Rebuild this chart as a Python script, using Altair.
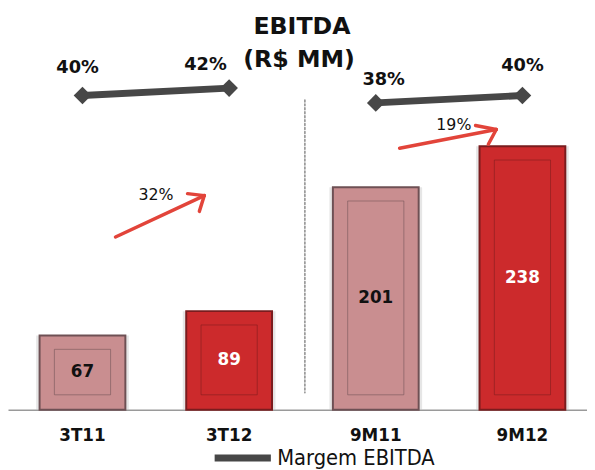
import altair as alt
import pandas as pd

# ---- data ----
categories = ["3T11", "3T12", "9M11", "9M12"]
ebitda = [67, 89, 201, 238]
margin = [40, 42, 38, 40]
margin_labels = ["40%", "42%", "38%", "40%"]
period = ["3T", "3T", "9M", "9M"]
kind = ["prev", "curr", "prev", "curr"]
growth_labels = ["32%", "19%"]
title_lines = ["EBITDA", "(R$ MM)"]
series_name = "Margem EBITDA"

df = pd.DataFrame({
    "cat": categories,
    "ebitda": ebitda,
    "margin": margin,
    "mlabel": margin_labels,
    "period": period,
    "kind": kind,
    "series": [series_name] * 4,
})

W, H = 587, 404
FONT = "DejaVu Sans"
NARROW = "DejaVu Sans Condensed, Liberation Sans Narrow, DejaVu Sans"

x = alt.X("cat:N", sort=categories,
          scale=alt.Scale(paddingInner=0.415, paddingOuter=0.1816, align=0.593),
          axis=alt.Axis(title=None, labelAngle=0, ticks=False, grid=False,
                        domainColor="#9a9a9a", domainWidth=1.5,
                        labelFont=FONT, labelFontSize=17, labelFontWeight="bold",
                        labelColor="#111", labelPadding=18))
yscale = alt.Scale(domain=[0, 360])
y = alt.Y("ebitda:Q", scale=yscale, axis=None)

fill_scale = alt.Scale(domain=["prev", "curr"], range=["#c98e90", "#cc2a2c"])
stroke_scale = alt.Scale(domain=["prev", "curr"], range=["#6e5054", "#7a1c1e"])

base = alt.Chart(df)

shadow = base.mark_bar(width=alt.RelativeBandSize(1.08), color="#b8b8b8", opacity=0.35).encode(
    x=x, y=alt.Y("ebitda:Q", scale=yscale, axis=None))

bars = base.mark_bar(strokeWidth=2).encode(
    x=x, y=y,
    fill=alt.Fill("kind:N", scale=fill_scale, legend=None),
    stroke=alt.Stroke("kind:N", scale=stroke_scale, legend=None),
)

inner = base.transform_calculate(
    top="datum.ebitda - 12.5", bot="13.4"
).mark_bar(width=alt.RelativeBandSize(0.655), fillOpacity=0, strokeWidth=1, strokeOpacity=0.55).encode(
    x=x,
    y=alt.Y("top:Q", scale=yscale, axis=None),
    y2="bot:Q",
    stroke=alt.Stroke("kind:N", scale=stroke_scale, legend=None),
)

values = base.transform_calculate(mid="datum.ebitda / 2").mark_text(
    font=FONT, fontSize=17, fontWeight="bold", baseline="middle", align="center"
).encode(
    x=x,
    y=alt.Y("mid:Q", scale=yscale, axis=None),
    text="ebitda:Q",
    color=alt.Color("kind:N", scale=alt.Scale(domain=["prev", "curr"], range=["#111111", "#ffffff"]), legend=None),
)

mscale = alt.Scale(domain=[-44.93, 62.8])
line = base.mark_line(strokeWidth=7).encode(
    x=x,
    y=alt.Y("margin:Q", scale=mscale, axis=None),
    detail="period:N",
    color=alt.Color("series:N", scale=alt.Scale(domain=[series_name], range=["#474747"]),
                    legend=alt.Legend(title=None, orient="none", legendX=206, legendY=421,
                                      symbolType="stroke", symbolStrokeWidth=7,
                                      symbolSize=3249, labelFont=NARROW, labelFontSize=22,
                                      labelColor="#111", labelOffset=3)),
)
diamonds = base.mark_point(shape="diamond", filled=True, size=320, opacity=1, color="#474747").encode(
    x=x, y=alt.Y("margin:Q", scale=mscale, axis=None))

offsets = {"3T11": (-5, -28), "3T12": (-24, -23), "9M11": (8, -23), "9M12": (0, -30)}
mlabels = []
for c in categories:
    dx, dy = offsets[c]
    mlabels.append(
        base.transform_filter(alt.datum.cat == c).mark_text(
            font=FONT, fontSize=18, fontWeight="bold", dx=dx, dy=dy, baseline="middle", color="#111"
        ).encode(x=x, y=alt.Y("margin:Q", scale=mscale, axis=None), text="mlabel:N")
    )

# ---- annotations ----
def seg(x1, y1, x2, y2, color="#e2443a", w=3.5, dash=None):
    kw = dict(color=color, strokeWidth=w, strokeCap="round")
    if dash:
        kw["strokeDash"] = dash
    return alt.Chart(pd.DataFrame({"a": [0]})).mark_rule(**kw).encode(
        x=alt.value(x1), y=alt.value(y1), x2=alt.value(x2), y2=alt.value(y2))

def label(t, xx, yy, size, weight="normal"):
    return alt.Chart(pd.DataFrame({"t": [t]})).mark_text(
        font=FONT, fontSize=size, fontWeight=weight, color="#111", align="center", baseline="middle"
    ).encode(text="t:N", x=alt.value(xx), y=alt.value(yy))

divider = seg(301, 90, 301, 387, color="#8a8a8a", w=1.5, dash=[2, 2])
arrows = [
    seg(109, 229, 199, 187), seg(199, 187, 182, 185), seg(199, 187, 194, 203),
    seg(397, 139, 495, 120), seg(495, 120, 474, 116), seg(495, 120, 487, 135),
]
texts = [
    label(growth_labels[0], 150, 186, 16),
    label(growth_labels[1], 452, 116, 16),
    label(title_lines[0], 298, 16, 24, "bold"),
    label(title_lines[1], 295, 50, 24, "bold"),
]

chart = alt.layer(
    shadow, bars, inner, values, divider, *arrows, line, diamonds, *mlabels, *texts
).resolve_scale(y="independent", color="independent", stroke="independent", fill="independent").properties(
    width=W, height=H,
    autosize=alt.AutoSizeParams(type="none"),
    padding={"left": 0, "top": 0, "right": 0, "bottom": 58},
    background="white",
).configure_view(stroke=None)

chart.save("out.html", embed_options={"renderer": "svg", "actions": False})
